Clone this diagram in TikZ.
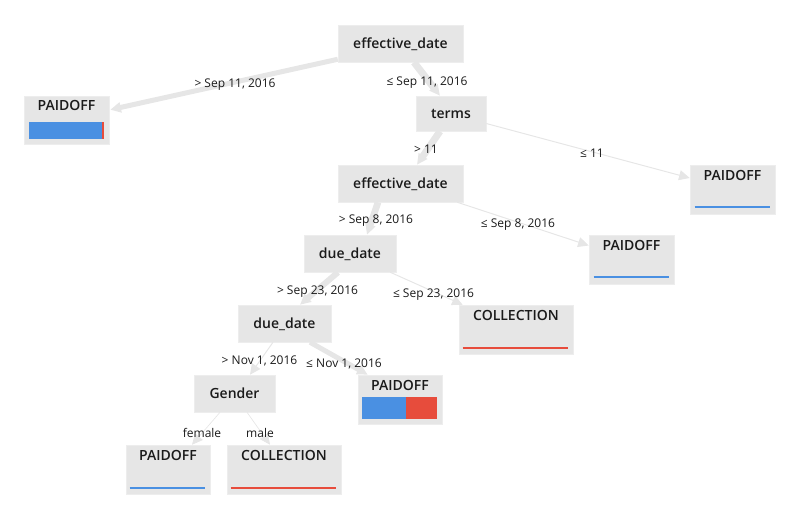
\documentclass[tikz,border=0pt]{standalone}
\usepackage{fontspec}
\setmainfont{Open Sans}[BoldFont={Open Sans Semibold}]
\usetikzlibrary{arrows.meta,calc}
\definecolor{boxfill}{HTML}{E6E6E6}
\definecolor{edgecol}{HTML}{E6E6E6}
\definecolor{txt}{HTML}{1A1A1A}
\definecolor{pblue}{HTML}{4A90E2}
\definecolor{cred}{HTML}{E74C3C}
\begin{document}
\begin{tikzpicture}[x=0.75pt,y=-0.75pt,
  box/.style={fill=boxfill, draw=white!93!black, line width=0.4pt, inner sep=0pt},
  split/.style={box, font=\bfseries\fontsize{10.5}{12}\selectfont, text=txt, text height=8.2pt, text depth=0pt},
  leaf/.style={box},
  ttl/.style={font=\bfseries\fontsize{10.5}{12}\selectfont, text=txt, inner sep=0pt, anchor=base},
  lbl/.style={font=\fontsize{9}{11}\selectfont, text=txt, inner sep=0pt, anchor=base},
  edge/.style={draw=edgecol, -{Triangle[length=8pt,width=7.5pt]}},
  bar/.style={line width=1.5pt},
]
\useasboundingbox (0,0) rectangle (793,507);

% split nodes
\node[split, minimum width=93.75pt, minimum height=27.75pt] (root) at (400.5,43.5) {effective\_date};
\node[split, minimum width=52.5pt, minimum height=26.25pt] (terms) at (451,113.5) {terms};
\node[split, minimum width=93.75pt, minimum height=27.75pt] (eff2) at (400.5,183.5) {effective\_date};
\node[split, minimum width=69pt, minimum height=27.75pt] (due1) at (350,253.5) {due\_date};
\node[split, minimum width=69.75pt, minimum height=27.75pt] (due2) at (284.5,323.5) {due\_date};
\node[split, minimum width=60.75pt, minimum height=27.75pt] (gender) at (234.5,393.5) {Gender};

% leaf nodes
\node[leaf, minimum width=63.75pt, minimum height=36pt] (pl) at (66.5,120) {};
\node[leaf, minimum width=63.75pt, minimum height=36.75pt] (pr) at (732.5,189.5) {};
\node[leaf, minimum width=63.75pt, minimum height=36.75pt] (p8) at (631.5,259.5) {};
\node[leaf, minimum width=85.5pt, minimum height=36.75pt] (coll1) at (516,329.5) {};
\node[leaf, minimum width=63pt, minimum height=36.75pt] (pm) at (400,399.5) {};
\node[leaf, minimum width=63pt, minimum height=36.75pt] (pf) at (168,469.5) {};
\node[leaf, minimum width=85.5pt, minimum height=36.75pt] (cm) at (284,469.5) {};

% leaf titles
\node[ttl] (tpl) at ($(pl.north)+(0,15)$) {PAIDOFF};
\node[ttl] (tpr) at ($(pr.north)+(0,16)$) {PAIDOFF};
\node[ttl] (tp8) at ($(p8.north)+(0,16)$) {PAIDOFF};
\node[ttl] (tc1) at ($(coll1.north)+(0,16)$) {COLLECTION};
\node[ttl] (tpm) at ($(pm.north)+(0,16)$) {PAIDOFF};
\node[ttl] (tpf) at ($(pf.north)+(0,16)$) {PAIDOFF};
\node[ttl] (tcm) at ($(cm.north)+(0,16)$) {COLLECTION};

% class bars
\fill[pblue] ($(pl.north west)+(5,26)$) rectangle ($(pl.north west)+(78.5,43)$);
\fill[cred] ($(pl.north west)+(78.5,26)$) rectangle ($(pl.north west)+(80,43)$);
\fill[pblue] ($(pm.north west)+(4,22)$) rectangle ($(pm.north west)+(48.5,44)$);
\fill[cred] ($(pm.north west)+(48.5,22)$) rectangle ($(pm.north west)+(79,44)$);
\draw[bar, draw=pblue] ($(pr.north west)+(5,42.5)$) -- ($(pr.north west)+(80,42.5)$);
\draw[bar, draw=pblue] ($(p8.north west)+(5,42.5)$) -- ($(p8.north west)+(80,42.5)$);
\draw[bar, draw=cred] ($(coll1.north west)+(4,43)$) -- ($(coll1.north west)+(109,43)$);
\draw[bar, draw=pblue] ($(pf.north west)+(4,43)$) -- ($(pf.north west)+(79,43)$);
\draw[bar, draw=cred] ($(cm.north west)+(4,43)$) -- ($(cm.north west)+(109,43)$);

% edges
\draw[edge, line width=3.75pt] ($(root.south west)+(0,-3)$) -- ($(pl.north east)+(1,14)$);
\draw[edge, line width=5.25pt] ($(root.south)+(13.5,0)$) -- ($(terms.north)+(-11,0)$);
\draw[edge, line width=5.25pt] ($(terms.south)+(-11,0)$) -- ($(eff2.north)+(16.5,0)$);
\draw[edge, line width=0.75pt] ($(terms.east)+(0,10)$) -- ($(pr.west)+(0,-11.5)$);
\draw[edge, line width=5pt] ($(eff2.south)+(-22.5,0)$) -- ($(due1.north)+(17,0)$);
\draw[edge, line width=0.75pt] ($(eff2.south east)+(-6,0)$) -- ($(p8.west)+(0,-14)$);
\draw[edge, line width=4.5pt] ($(due1.south)+(-12,0)$) -- ($(due2.north)+(15.5,0)$);
\draw[edge, line width=0.75pt] ($(due1.south east)+(-6,0)$) -- ($(coll1.north west)+(4,0)$);
\draw[edge, line width=0.75pt] ($(due2.south)+(-11.5,0)$) -- ($(gender.north)+(15.5,0)$);
\draw[edge, line width=3.75pt] ($(due2.south)+(25.5,0)$) -- ($(pm.north west)+(10,0)$);
\draw[edge, line width=0.5pt] ($(gender.south)+(-14.5,0)$) -- ($(pf.north)+(24,0)$);
\draw[edge, line width=0.5pt] ($(gender.south)+(12.5,0)$) -- ($(cm.north)+(-14,0)$);

% edge labels
\node[lbl] (l1) at (235,87) {> Sep 11, 2016};
\node[lbl] (l2) at (427,85) {≤ Sep 11, 2016};
\node[lbl] (l3) at (426,153.5) {> 11};
\node[lbl] (l4) at (592,157.5) {≤ 11};
\node[lbl] (l5) at (376,223.5) {> Sep 8, 2016};
\node[lbl] (l6) at (518,227.5) {≤ Sep 8, 2016};
\node[lbl] (l7) at (317.5,294.5) {> Sep 23, 2016};
\node[lbl] (l8) at (433.5,297.5) {≤ Sep 23, 2016};
\node[lbl] (l9) at (259.5,364) {> Nov 1, 2016};
\node[lbl] (l10) at (344,367.5) {≤ Nov 1, 2016};
\node[lbl] (l11) at (202,437.5) {female};
\node[lbl] (l12) at (260,437.5) {male};
\end{tikzpicture}
\end{document}
